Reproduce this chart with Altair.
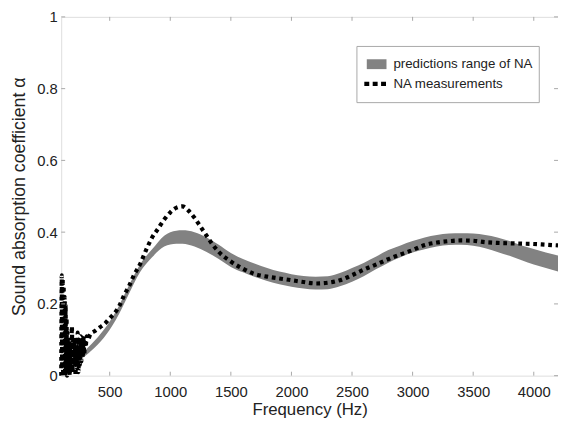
import altair as alt
import pandas as pd

# Measurement (dotted line) frequencies and values
meas_freq = [100, 104, 108, 112, 116, 120, 124, 128, 132, 136, 140, 144, 148, 152, 158,
             164, 170, 176, 182, 188, 194, 200, 206, 212, 218, 224, 230, 236, 242, 248,
             254, 260, 266, 272, 278, 284, 290, 296, 302, 310, 320, 340, 380, 420, 460,
             500, 540, 580, 620, 660, 700, 750, 800, 850, 900, 950, 1000, 1050, 1100, 1150,
             1200, 1250, 1300, 1350, 1400, 1500, 1600, 1700, 1800, 1900, 2000, 2100, 2200,
             2300, 2400, 2500, 2600, 2700, 2800, 2900, 3000, 3100, 3200, 3300, 3400, 3500,
             3600, 3700, 3800, 3900, 4000, 4100, 4200]
meas_alpha = [0.0, 0.28, 0.02, 0.27, 0.0, 0.25, 0.03, 0.22, 0.0, 0.2, 0.02, 0.16, 0.0,
              0.12, 0.01, 0.10, 0.0, 0.09, 0.02, 0.137, 0.01, 0.11, 0.03, 0.10, 0.0, 0.09,
              0.02, 0.12, 0.01, 0.09, 0.03, 0.11, 0.04, 0.10, 0.05, 0.11, 0.06, 0.10, 0.08,
              0.11, 0.10, 0.115, 0.125, 0.135, 0.145, 0.16, 0.174, 0.195, 0.225, 0.25, 0.28,
              0.31, 0.35, 0.385, 0.41, 0.435, 0.455, 0.468, 0.472, 0.46, 0.44, 0.415, 0.39,
              0.365, 0.345, 0.318, 0.298, 0.283, 0.276, 0.271, 0.266, 0.261, 0.257, 0.259,
              0.266, 0.28, 0.296, 0.31, 0.325, 0.338, 0.35, 0.364, 0.371, 0.375, 0.377, 0.376,
              0.372, 0.37, 0.369, 0.368, 0.367, 0.365, 0.363]

# Prediction range band
band_freq = [150, 250, 350, 450, 550, 650, 750, 850, 950, 1050, 1100, 1200, 1300, 1400, 1500,
             1600, 1700, 1800, 1900, 2000, 2100, 2200, 2300, 2400, 2500, 2600, 2700, 2800,
             2900, 3000, 3100, 3200, 3300, 3400, 3500, 3600, 3700, 3800, 3900, 4000, 4100, 4200]
band_low = [0.025, 0.043, 0.07, 0.105, 0.155, 0.222, 0.288, 0.33, 0.36, 0.368, 0.368, 0.36,
            0.345, 0.325, 0.303, 0.288, 0.275, 0.264, 0.255, 0.248, 0.243, 0.24, 0.241, 0.249,
            0.262, 0.278, 0.297, 0.315, 0.33, 0.343, 0.352, 0.36, 0.364, 0.365, 0.362, 0.355,
            0.345, 0.334, 0.322, 0.31, 0.3, 0.29]
band_high = [0.035, 0.057, 0.088, 0.127, 0.178, 0.246, 0.31, 0.352, 0.39, 0.404, 0.405, 0.40,
             0.385, 0.365, 0.342, 0.325, 0.312, 0.30, 0.29, 0.283, 0.278, 0.276, 0.277, 0.286,
             0.30, 0.315, 0.332, 0.35, 0.363, 0.375, 0.385, 0.392, 0.396, 0.397, 0.396, 0.392,
             0.385, 0.375, 0.363, 0.353, 0.343, 0.335]

x_ticks = [500, 1000, 1500, 2000, 2500, 3000, 3500, 4000]
y_ticks = [0, 0.2, 0.4, 0.6, 0.8, 1]

legend_labels = ["predictions range of NA", "NA measurements"]

W, H = 504, 364
FONT = "Liberation Sans"
FRAME = "#a8a8a8"
TXT = "#222222"

meas = pd.DataFrame({"f": meas_freq, "a": meas_alpha})
band = pd.DataFrame({"f": band_freq, "lo": band_low, "hi": band_high})
xt = pd.DataFrame({"t": x_ticks})
yt = pd.DataFrame({"t": y_ticks})

xscale = alt.Scale(domain=[100, 4200], nice=False, zero=False)
yscale = alt.Scale(domain=[0, 1], nice=False)

xaxis = alt.Axis(values=x_ticks, format="d", title="Frequency (Hz)", grid=False, ticks=False,
                 domain=False, labelFont=FONT, labelFontSize=15, labelColor=TXT, labelPadding=9,
                 titleFont=FONT, titleFontSize=17, titleFontWeight="normal", titleColor=TXT,
                 titlePadding=2)
yaxis = alt.Axis(values=y_ticks, format="~g", title="Sound absorption coefficient α", grid=False,
                 ticks=False, domain=False, labelFont=FONT, labelFontSize=15, labelColor=TXT,
                 labelPadding=4, labelFlush=False,
                 titleFont=FONT, titleFontSize=18, titleFontWeight="normal", titleColor=TXT,
                 titlePadding=8)

area = alt.Chart(band).mark_area(color="#828282", opacity=1, interpolate="monotone").encode(
    x=alt.X("f:Q", scale=xscale, axis=xaxis),
    y=alt.Y("lo:Q", scale=yscale, axis=yaxis),
    y2="hi:Q",
)

line = alt.Chart(meas).mark_line(color="black", strokeWidth=4.2, strokeDash=[3.8, 3.8],
                                 interpolate="monotone").encode(
    x=alt.X("f:Q", scale=xscale),
    y=alt.Y("a:Q", scale=yscale),
)

tick_style = dict(color=FRAME, strokeWidth=1)
bt = alt.Chart(xt).mark_rule(**tick_style).encode(
    x=alt.X("t:Q", scale=xscale), y=alt.value(H), y2=alt.value(H - 4))
tt = alt.Chart(xt).mark_rule(**tick_style).encode(
    x=alt.X("t:Q", scale=xscale), y=alt.value(0), y2=alt.value(4))
lt = alt.Chart(yt).mark_rule(**tick_style).encode(
    y=alt.Y("t:Q", scale=yscale), x=alt.value(0), x2=alt.value(4))
rt = alt.Chart(yt).mark_rule(**tick_style).encode(
    y=alt.Y("t:Q", scale=yscale), x=alt.value(W), x2=alt.value(W - 4))

# Legend (manual)
leg_df = pd.DataFrame({"label": legend_labels, "row": [0, 1]})
leg_box = alt.Chart(leg_df.head(1)).mark_rect(fill="white", stroke=FRAME, strokeWidth=1).encode(
    x=alt.value(300), x2=alt.value(485), y=alt.value(30), y2=alt.value(87))
leg_swatch = alt.Chart(leg_df.head(1)).mark_rect(fill="#828282").encode(
    x=alt.value(310), x2=alt.value(330), y=alt.value(43), y2=alt.value(53))
leg_dots = alt.Chart(leg_df.head(1)).mark_rule(color="black", strokeWidth=4.5,
                                               strokeDash=[5, 3.5]).encode(
    x=alt.value(307.5), x2=alt.value(332), y=alt.value(68))
leg_text1 = alt.Chart(leg_df.head(1)).mark_text(align="left", baseline="middle", font=FONT,
                                                fontSize=13.5, color=TXT).encode(
    x=alt.value(337), y=alt.value(48), text="label:N")
leg_text2 = alt.Chart(leg_df.tail(1)).mark_text(align="left", baseline="middle", font=FONT,
                                                fontSize=13.5, color=TXT).encode(
    x=alt.value(337), y=alt.value(68), text="label:N")

chart = alt.layer(area, line, bt, tt, lt, rt, leg_box, leg_swatch, leg_dots, leg_text1,
                  leg_text2).properties(
    width=W, height=H,
    autosize=alt.AutoSizeParams(type="none"),
    padding={"left": 54, "top": 6, "right": 0, "bottom": 44},
).configure_view(stroke=FRAME, strokeWidth=1).configure(background="white")

chart.save("out.html", embed_options={"renderer": "svg", "actions": False})
